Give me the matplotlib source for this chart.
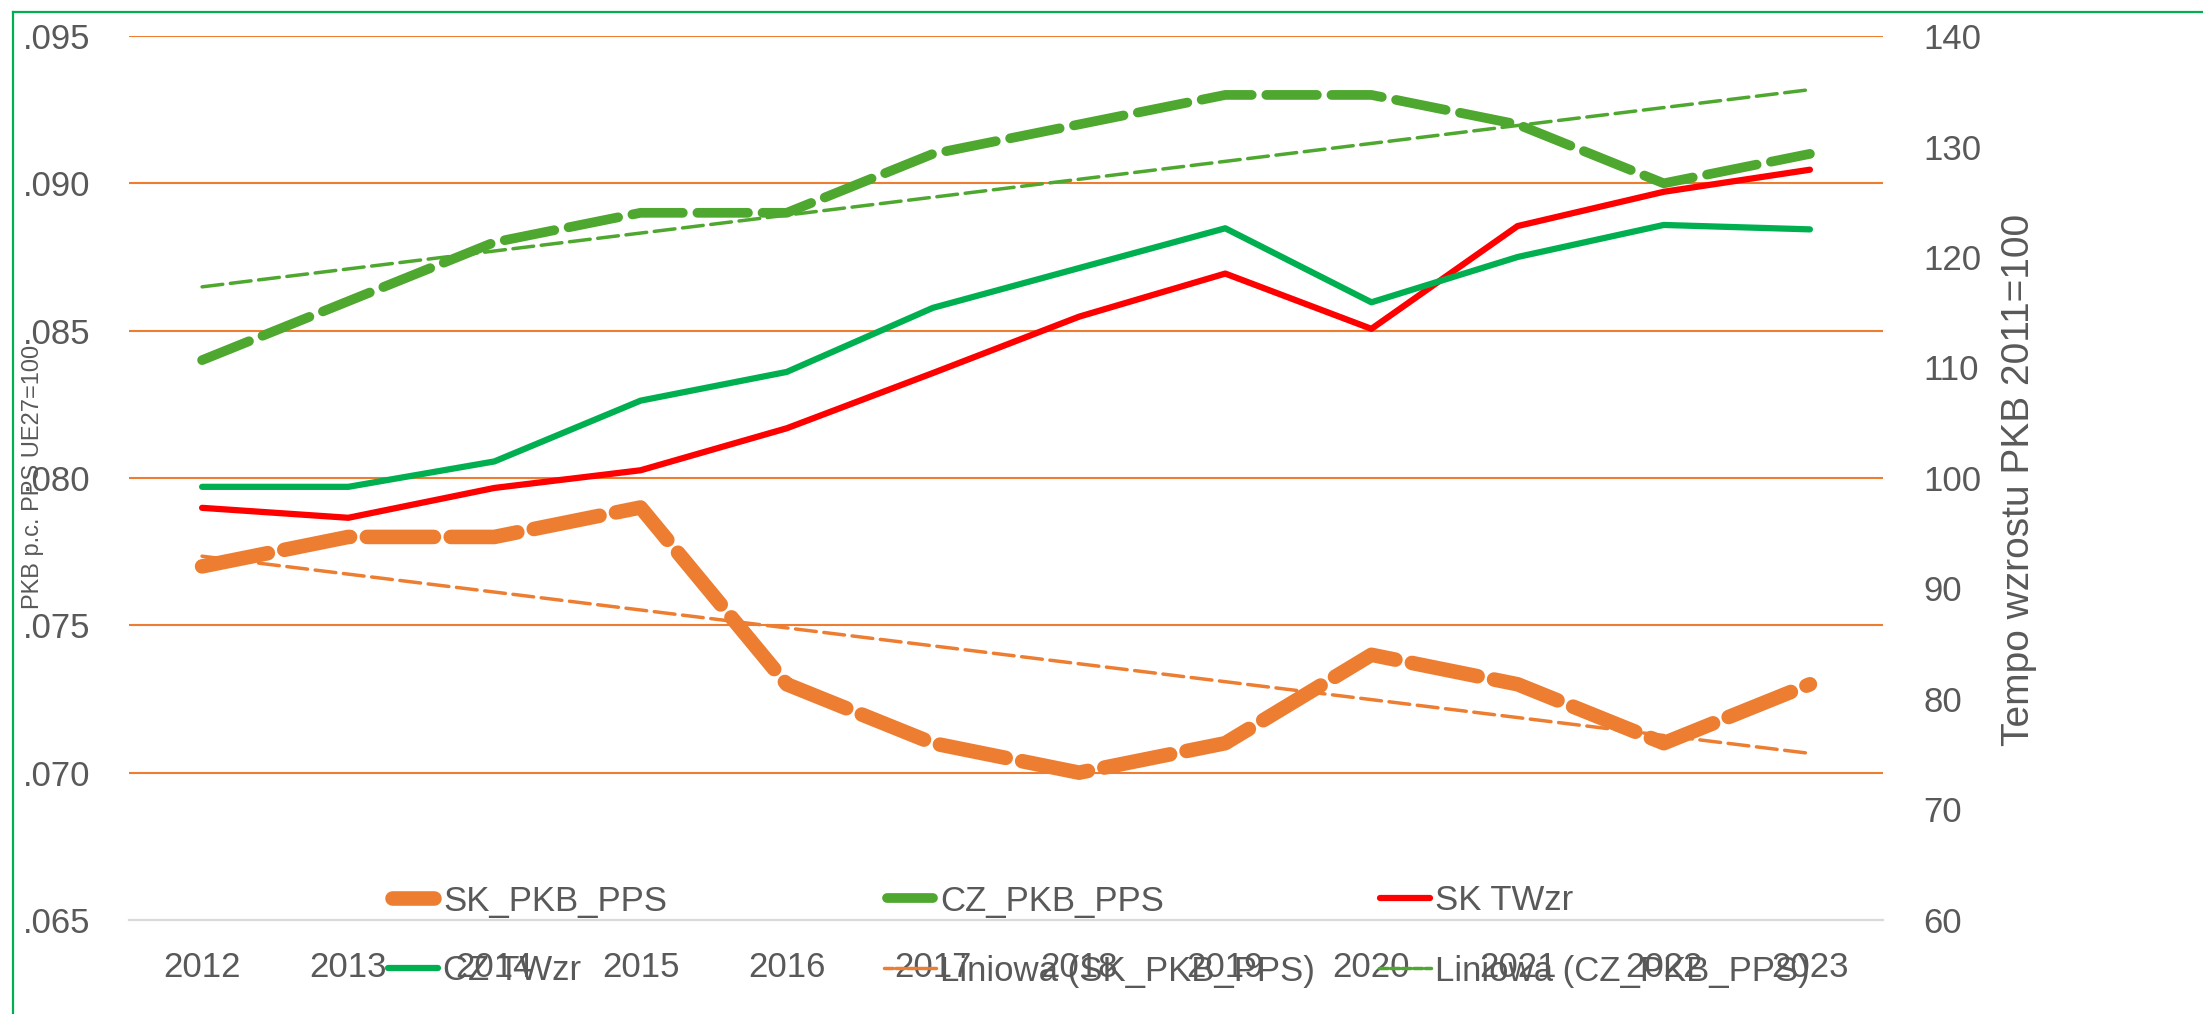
import numpy as np
import matplotlib.pyplot as plt
from matplotlib.lines import Line2D
from matplotlib.ticker import FuncFormatter, MultipleLocator

plt.rcParams['font.family'] = ['Liberation Sans', 'DejaVu Sans']

# data
years = ['2012', '2013', '2014', '2015', '2016', '2017',
         '2018', '2019', '2020', '2021', '2022', '2023']
sk_pps = [0.077, 0.078, 0.078, 0.079, 0.073, 0.071,
          0.070, 0.071, 0.074, 0.073, 0.071, 0.073]
cz_pps = [0.084, 0.086, 0.088, 0.089, 0.089, 0.091,
          0.092, 0.093, 0.093, 0.092, 0.090, 0.091]
sk_twzr = [97.3, 96.4, 99.1, 100.7, 104.5, 109.5,
           114.6, 118.5, 113.5, 122.8, 125.9, 127.9]
cz_twzr = [99.2, 99.2, 101.5, 107.0, 109.6, 115.4,
           119.0, 122.6, 115.9, 120.0, 122.9, 122.5]

c_orange = '#ED7D31'
c_green = '#4EA72E'
c_green2 = '#00B050'
c_red = '#FF0000'
c_text = '#595959'

W, H = 2203, 1014
fig = plt.figure(figsize=(W / 100, H / 100), dpi=100)
ax1 = fig.add_axes([129 / W, 1 - 920 / H, (1883 - 129) / W, (920 - 36) / H])
ax2 = ax1.twinx()

x = np.arange(len(years))

# primary axis: PPS series (long dash)
ax1.plot(x, sk_pps, color=c_orange, lw=10.5, linestyle=(0, (4.6, 1.15)),
         dash_capstyle='round', solid_joinstyle='round', zorder=3)
ax1.plot(x, cz_pps, color=c_green, lw=7.0, linestyle=(0, (5.2, 1.5)),
         dash_capstyle='round', solid_joinstyle='round', zorder=3)

# linear trendlines (Excel "Liniowa")
for ser, col in [(sk_pps, c_orange), (cz_pps, c_green)]:
    a, b = np.polyfit(x, ser, 1)
    ax1.plot(x, a * x + b, color=col, lw=2.5, linestyle=(0, (6.0, 2.2)),
             dash_capstyle='round', zorder=4)

# secondary axis: growth index
ax2.plot(x, sk_twzr, color=c_red, lw=4.5, solid_capstyle='round')
ax2.plot(x, cz_twzr, color=c_green2, lw=4.5, solid_capstyle='round')

ax1.set_xlim(-0.5, len(years) - 0.5)
ax1.set_ylim(0.065, 0.095)
ax2.set_ylim(60, 140)
ax1.yaxis.set_major_locator(MultipleLocator(0.005))
ax2.yaxis.set_major_locator(MultipleLocator(10))
ax1.yaxis.set_major_formatter(FuncFormatter(lambda v, p: f'{v:.3f}'.lstrip('0')))

ax1.set_xticks(x)
ax1.set_xticklabels(years)

for g in np.arange(0.070, 0.0951, 0.005):
    ax1.axhline(g, color=c_orange, lw=1.5, zorder=1)

for ax in (ax1, ax2):
    for s in ax.spines.values():
        s.set_visible(False)
ax1.spines['bottom'].set_visible(True)
ax1.spines['bottom'].set_color('#D9D9D9')
ax1.spines['bottom'].set_linewidth(1.6)

ax1.tick_params(axis='x', length=0, pad=22, labelsize=25, labelcolor=c_text)
ax1.tick_params(axis='y', length=0, pad=28, labelsize=25, labelcolor=c_text)
ax2.tick_params(axis='y', length=0, pad=29, labelsize=25, labelcolor=c_text)

# axis titles
fig.text(33 / W, 1 - 477 / H, 'PKB p.c. PPS UE27=100', rotation=90,
         ha='center', va='center', fontsize=17, color=c_text)
fig.text(2019 / W, 1 - 480 / H, 'Tempo wzrostu PKB 2011=100', rotation=90,
         ha='center', va='center', fontsize=28, color=c_text)

# legend, laid out on Excel's fixed column grid
leg_labels = ['SK_PKB_PPS', 'CZ_PKB_PPS', 'SK TWzr',
              'CZ TWzr', 'Liniowa (SK_PKB_PPS)', 'Liniowa (CZ_PKB_PPS)']
leg_colors = [c_orange, c_green, c_red, c_green2, c_orange, c_green]
leg_widths = [10.5, 7.0, 4.5, 4.5, 2.5, 2.5]
leg_styles = ['-', '-', '-', '-', (0, (2.5, 0.8)), (0, (2.5, 0.8))]
col_text_x = [443, 940, 1435]
row_y = [898, 968]
for i, lab in enumerate(leg_labels):
    r, c = divmod(i, 3)
    tx = col_text_x[c]
    ty = row_y[r]
    lw_px = leg_widths[i] / 0.72
    x0 = tx - 58 + lw_px / 2
    x1 = tx - 2 - lw_px / 2
    fig.add_artist(Line2D([x0 / W, x1 / W], [1 - ty / H, 1 - ty / H],
                          color=leg_colors[i], lw=leg_widths[i],
                          linestyle=leg_styles[i], solid_capstyle='round',
                          dash_capstyle='round', transform=fig.transFigure))
    fig.text(tx / W, 1 - (ty + 12.5) / H, lab, ha='left', va='baseline',
             fontsize=25, color=c_text)

# chart-area border (left and top edges visible)
fig.add_artist(Line2D([13 / W, 13 / W], [0, 1 - 12 / H], color='#00B050',
                      lw=1.6, transform=fig.transFigure))
fig.add_artist(Line2D([13 / W, 1], [1 - 12 / H, 1 - 12 / H], color='#00B050',
                      lw=1.6, transform=fig.transFigure))

fig.savefig('out.png', dpi=100)
